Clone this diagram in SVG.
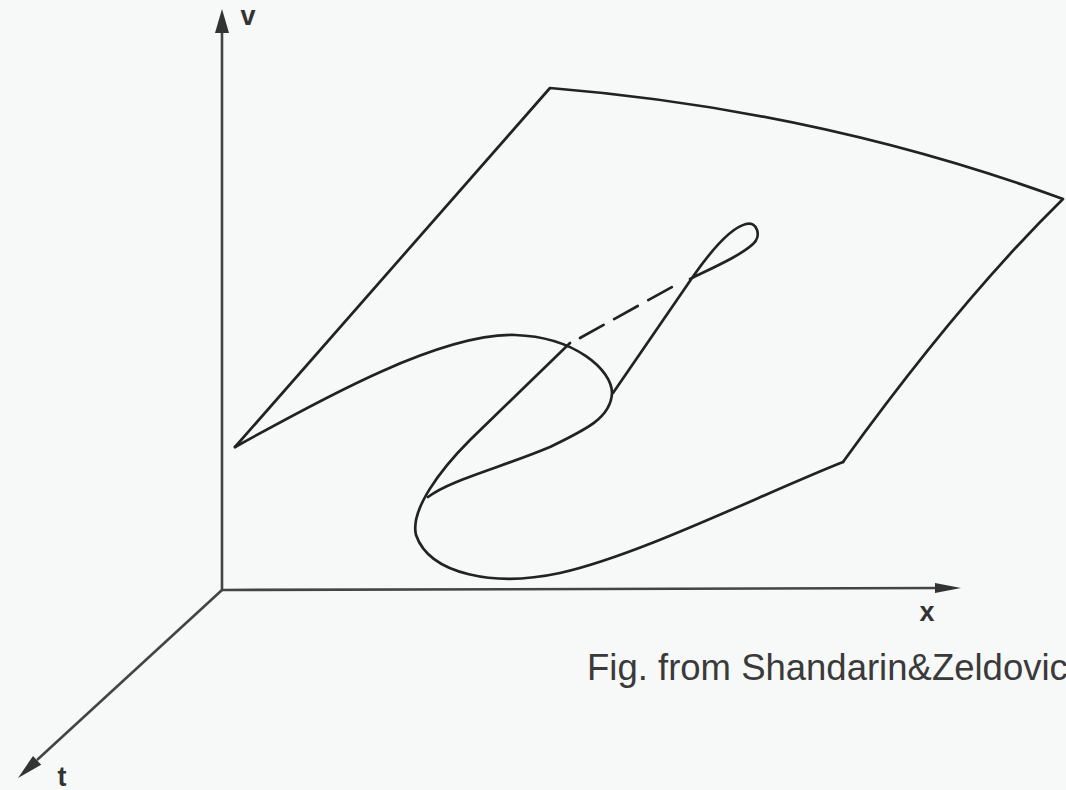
<svg xmlns="http://www.w3.org/2000/svg" width="1066" height="790" viewBox="0 0 1066 790">
<style>
.ax{stroke:#444;stroke-width:2.6;fill:none}
.ah{fill:#333;stroke:none}
.cv{stroke:#222;stroke-width:2.7;fill:none;stroke-linecap:round;stroke-linejoin:round}
.lbl{font-family:"Liberation Sans",Arial,sans-serif;font-weight:bold;font-size:27px;fill:#333;text-anchor:middle}
.cap{font-family:"Liberation Sans",Arial,sans-serif;font-size:36.5px;fill:#3a3a3a}
</style>
<rect width="1066" height="790" fill="#f7f8f8"/>
<g id="axes">
<path class="ax" d="M222,590 L222,30"/>
<polygon class="ah" points="222,9 215,33 229,33"/>
<path class="ax" d="M222,590 L940,588"/>
<polygon class="ah" points="961,588 935,583 935,593"/>
<path class="ax" d="M222,590 L37,760"/>
<polygon class="ah" points="18,778 41.2,764.8 33,756"/>
<text class="lbl" x="248" y="25">v</text>
<text class="lbl" x="927" y="621">x</text>
<text class="lbl" x="62" y="786">t</text>
</g>
<g id="sheet">
<path class="cv" d="M235,447 L550,88 Q820,110 1063,199 Q960,300 843,462"/>
</g>
<g id="fold">
<path class="cv" d="M235,447 C320,400 440,333 515,335 C575,337 612,370 612,393 C611,418 585,430 550,447 C500,468 450,480 428,497"/>
<path class="cv" d="M843,462 C760,495 640,555 560,573 C495,587 430,575 416,535 C410,510 440,470 470,440 L570,343"/>
<path class="cv" d="M580,338 L672,287" stroke-dasharray="27 12" stroke-linecap="butt"/>
<path class="cv" d="M613,393 L692,278 C710,252 730,228 746,224 C757,221 762,236 753,244 C740,256 712,268 690,279"/>
</g>
<text id="caption" class="cap" x="587" y="680">Fig. from Shandarin&amp;Zeldovic</text>
</svg>
